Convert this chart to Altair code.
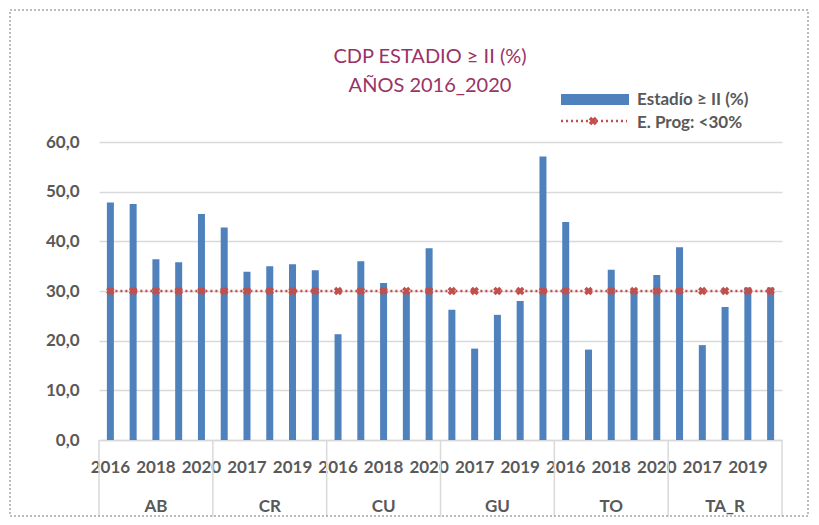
import altair as alt
import pandas as pd

groups = ["AB", "CR", "CU", "GU", "TO", "TA_R"]
years = ["2016", "2017", "2018", "2019", "2020"]
estadio = [47.8, 47.5, 36.4, 35.8, 45.5,
           42.8, 33.9, 35.0, 35.4, 34.2,
           21.3, 36.0, 31.6, 29.8, 38.6,
           26.2, 18.4, 25.2, 28.0, 57.1,
           43.9, 18.2, 34.3, 30.0, 33.2,
           38.8, 19.1, 26.8, 30.7, 30.7]
target = [30, 30, 30, 30, 30, 30, 30, 30, 30, 30,
          30, 30, 30, 30, 30, 30, 30, 30, 30, 30,
          30, 30, 30, 30, 30, 30, 30, 30, 30, 30]
y_ticks = [0, 10, 20, 30, 40, 50, 60]
title_lines = ["CDP ESTADIO ≥ II (%)", "AÑOS 2016_2020"]
legend_labels = ["Estadío ≥ II (%)", "E. Prog: <30%"]

keys = [f"{g}|{y}" for g in groups for y in years]
df = pd.DataFrame({"key": keys, "estadio": estadio, "target": target})
grp_df = pd.DataFrame({"group": groups,
                       "center": [f"{g}|2018" for g in groups],
                       "start": [f"{g}|2016" for g in groups]})
# Excel shows every other year label (they do not all fit)
ylab_df = pd.DataFrame({"key": keys[::2]})

W, H = 683, 298
BLUE = "#4F81BD"
RED = "#C0504D"
GRAY = "#595959"
GRID = "#D9D9D9"
FONT = "Lato"
FS = 17

xscale = alt.Scale(domain=keys, paddingInner=0, paddingOuter=0)
yscale = alt.Scale(domain=[0, 60])
x_axis = alt.Axis(title=None, labels=False, ticks=False, domainColor=GRID,
                  domainWidth=1.5, grid=False)
y_axis = alt.Axis(
    title=None, values=y_ticks,
    labelExpr="replace(format(datum.value, '.1f'), '.', ',')",
    ticks=False, domain=False, gridColor=GRID, gridWidth=1.5,
    labelFont=FONT, labelFontWeight="bold", labelFontSize=FS,
    labelColor=GRAY, labelPadding=20)


def xk(field, **kw):
    return alt.X(field, scale=xscale, sort=keys, axis=x_axis, **kw)


def yk(field):
    return alt.Y(field, scale=yscale, axis=y_axis)


base = alt.Chart(df)
bars = base.mark_bar(size=7, color=BLUE).encode(x=xk("key:N"), y=yk("estadio:Q"))
line = base.mark_line(color=RED, strokeDash=[2, 3], strokeWidth=2.5).encode(
    x=xk("key:N"), y=yk("target:Q"))
pts = base.mark_point(shape="cross", angle=45, filled=True, size=75,
                      color=RED, opacity=1).encode(
    x=xk("key:N"), y=yk("target:Q"))

ylabels = alt.Chart(ylab_df).transform_calculate(
    lab="split(datum.key, '|')[1]").mark_text(
    font=FONT, fontWeight="bold", fontSize=FS, color=GRAY,
    baseline="middle").encode(x=xk("key:N"), y=alt.value(H + 28),
                              text="lab:N")

gbase = alt.Chart(grp_df)
glabels = gbase.mark_text(font=FONT, fontWeight="bold", fontSize=FS,
                          color=GRAY, baseline="middle").encode(
    x=xk("center:N"), y=alt.value(H + 67), text="group:N")
seps = gbase.mark_rule(color=GRID, strokeWidth=1.5).encode(
    x=xk("start:N", bandPosition=0), y=alt.value(H), y2=alt.value(H + 78))
sep_end = alt.Chart(pd.DataFrame({"k": [keys[-1]]})).mark_rule(
    color=GRID, strokeWidth=1.5).encode(
    x=xk("k:N", bandPosition=1), y=alt.value(H), y2=alt.value(H + 78))

title1 = alt.Chart(pd.DataFrame({"t": [title_lines[0]]})).mark_text(
    font=FONT, fontSize=20, color="#993366", align="center",
    baseline="alphabetic").encode(x=alt.value(331), y=alt.value(-79), text="t:N")
title2 = alt.Chart(pd.DataFrame({"t": [title_lines[1]]})).mark_text(
    font=FONT, fontSize=20, color="#993366", align="center",
    baseline="alphabetic").encode(x=alt.value(331), y=alt.value(-50), text="t:N")

leg1 = alt.Chart(pd.DataFrame({"t": [legend_labels[0]]})).mark_rect(color=BLUE).encode(
    x=alt.value(462), x2=alt.value(530), y=alt.value(-48), y2=alt.value(-37))
leg_line = alt.Chart(pd.DataFrame({"t": [legend_labels[1]]})).mark_rule(
    color=RED, strokeDash=[2, 3], strokeWidth=2.5).encode(
    x=alt.value(462), x2=alt.value(528), y=alt.value(-21))
leg_pt = alt.Chart(pd.DataFrame({"t": [legend_labels[1]]})).mark_point(
    shape="cross", angle=45, filled=True, size=75, color=RED, opacity=1).encode(
    x=alt.value(494), y=alt.value(-21))
leg_t1 = alt.Chart(pd.DataFrame({"t": [legend_labels[0]]})).mark_text(
    font=FONT, fontWeight="bold", fontSize=FS, color=GRAY, align="left",
    baseline="alphabetic").encode(x=alt.value(538), y=alt.value(-37), text="t:N")
leg_t2 = alt.Chart(pd.DataFrame({"t": [legend_labels[1]]})).mark_text(
    font=FONT, fontWeight="bold", fontSize=FS, color=GRAY, align="left",
    baseline="alphabetic").encode(x=alt.value(538), y=alt.value(-14), text="t:N")

border = alt.Chart(pd.DataFrame({"t": ["b"]})).mark_rect(
    filled=False, stroke="#A6A6A6", strokeWidth=1.5, strokeDash=[2, 2]).encode(
    x=alt.value(-89), x2=alt.value(709), y=alt.value(-132), y2=alt.value(374))

chart = alt.layer(bars, line, pts, ylabels, glabels, seps, sep_end,
                  title1, title2, leg1, leg_line, leg_pt, leg_t1, leg_t2,
                  border).properties(
    width=W, height=H,
    padding={"left": 91, "top": 134, "right": 29, "bottom": 77},
    autosize=alt.AutoSizeParams(type="none"),
    background="white"
).configure_view(stroke=None)

chart.save("out.html", embed_options={"renderer": "svg", "actions": False})
